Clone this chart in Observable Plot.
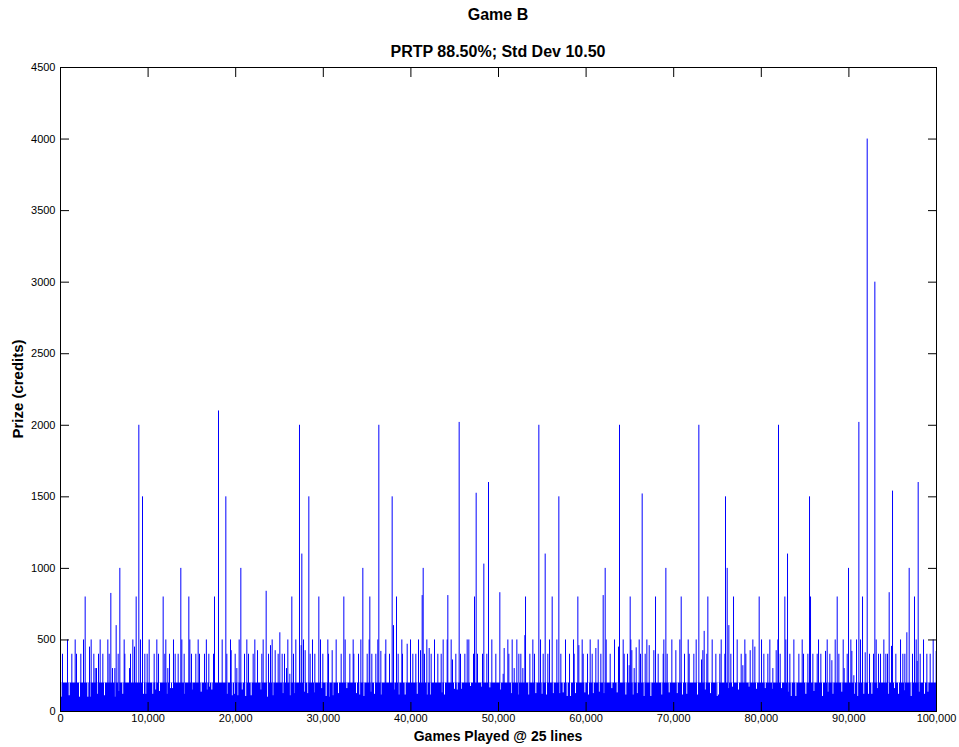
<!DOCTYPE html>
<html>
<head>
<meta charset="utf-8">
<script src="https://cdn.jsdelivr.net/npm/d3@7"></script>
<script src="https://cdn.jsdelivr.net/npm/@observablehq/plot@0.6"></script>
<style>
  body { margin: 0; background: #fff; }
  #chart { position: relative; width: 959px; height: 747px; font-family: "Liberation Sans", Arial, sans-serif; color: #000; }
  #chart svg { position: absolute; left: 0; top: 0; }
  .txt { position: absolute; white-space: nowrap; font-weight: bold; line-height: 1; }
  .center { left: 60px; width: 876px; text-align: center; }
</style>
</head>
<body>
<div id="chart"></div>
<script>
// Prize won on each of 100,000 simulated games (25 lines).
const chartTitle = "Game B";
const chartSubtitle = "PRTP 88.50%; Std Dev 10.50";
const xLabel = "Games Played @ 25 lines";
const yLabel = "Prize (credits)";

const totalGames = 100000;
const prizeMax = 4500;
const xTicks = [0, 10000, 20000, 30000, 40000, 50000, 60000, 70000, 80000, 90000, 100000];
const yTicks = [0, 500, 1000, 1500, 2000, 2500, 3000, 3500, 4000, 4500];

// Level reached by the dense mass of small wins in almost every stretch of games.
const bandTop = 200;

// Individual wins standing above the dense band: game number and prize.
const spikeGames = [
  229, 799, 1294, 1675, 1827, 2321, 2626, 2816, 3311, 3501, 3805, 3958, 4110, 4338, 4528, 4833,
  5403, 5556, 5746, 5936, 6203, 6355, 6583, 6773, 7268, 7344, 7877, 7991, 8257, 8447, 8638, 8942,
  9132, 9361, 9627, 9893, 10122, 10692, 10997, 11187, 11720, 11910, 12024, 12252, 12443, 12899,
  13090, 13432, 13736, 13851, 14117, 14650, 14764, 14954, 15449, 15715, 15867, 16438, 16650,
  16934, 17466, 17581, 18037, 18456, 18874, 18988, 19407, 19483, 19940, 20130, 20396, 20586,
  21005, 21271, 21462, 21994, 22185, 22489, 22984, 23136, 23478, 23745, 23973, 24163, 24506,
  24848, 25038, 25305, 25571, 25799, 25952, 26180, 26408, 26599, 26865, 27283, 27474, 27550,
  27740, 27930, 28349, 28501, 28767, 29034, 29490, 29681, 29947, 30518, 30594, 31013, 31469,
  32040, 32344, 32496, 33029, 33409,
  33487, 34019, 34286, 34514, 35009, 35237, 35313, 35541, 35998, 36226, 36340, 36569, 37063,
  37139, 37558, 37862, 38014, 38357, 38547, 38966, 39042, 39575, 39955, 40221, 40564, 40868,
  41097, 41287, 41401, 41553, 41819, 42086, 42314, 42695, 43075, 43456, 43684, 44141, 44217,
  44597, 44749, 45130, 45510, 45663, 46158, 46424, 46614, 47147, 47261, 47451, 47603, 48174,
  48326, 48668, 48859, 49239, 49696, 50152,
  50535, 50649, 51068, 51182, 51562, 51791, 52095, 52323, 52552, 52780, 53008, 53084, 53579,
  53921, 54112, 54606, 54797, 55101, 55329, 55634, 55824, 56128, 56661, 56889, 57118, 57650,
  58107, 58564, 58640, 59058, 59172, 59553, 59667, 60162, 60466, 60694, 61113, 61379, 61684,
  61950, 62178, 62292, 62749, 63244, 63700, 63814, 64233, 64347, 64727, 64918, 65032, 65108,
  65222, 65489, 65717, 66060, 66212, 66402, 66745,
  66936, 67202, 67735, 67925, 68229, 68800, 68876, 69105, 69257, 69789, 70246, 70703, 70855,
  71235, 71654, 71768, 72301, 72567, 72871, 73176, 73328, 73480, 73785, 73899, 74393, 74812,
  75269, 75421, 75839, 75915, 76106, 76296, 76524, 76829, 77247, 77704, 77894, 78122, 78237,
  78731, 79036, 79264, 79758, 80025, 80291, 80748, 80976, 81319, 81699, 81889, 81965, 82156,
  82689, 82803, 82993, 83259,
  83717, 84288, 84668, 84820, 85315, 85505, 85581, 85619, 85886, 86380, 86533, 86799, 87332,
  87522, 87826, 88055, 88435, 88663, 88854, 89348, 89462, 89805, 89957, 90223, 90338, 90566,
  90870, 91137, 91327, 91555, 91860, 92088, 92354, 92811, 92963, 93115, 93382, 93610, 93990,
  94219, 94409, 94599, 94865, 94979, 95360, 95893, 96159, 96387, 96616, 96882, 97262, 97490,
  97681, 97795, 97909, 98137, 98518, 98898, 99279, 99621, 99964
];
const spikePrizes = [
  400, 500, 400, 500, 400, 400, 500, 800, 450, 500, 400, 300, 300, 400, 500, 400,
  500, 400, 825, 300, 300, 600, 400, 1000, 500, 400, 300, 400, 500, 450, 800, 2000,
  500, 1500, 400, 400, 500, 400, 500, 400, 800, 400, 500, 300, 400, 500,
  400, 400, 1000, 500, 400, 800, 500, 400, 400, 500, 400, 400, 500,
  400, 400, 800, 2100, 500, 1500, 400, 500, 425, 400, 300, 500, 1000,
  400, 500, 400, 400, 500, 425, 400, 500, 840, 400, 460, 500, 425,
  400, 550, 400, 400, 300, 500, 260, 800, 400, 500, 2000, 460, 1100,
  500, 425, 1500, 400, 500, 400, 800, 500, 400, 500, 400, 425, 500,
  400, 800, 500, 400, 500,
  400, 400, 500, 1000, 400, 500, 800, 400, 400, 500, 2000, 420, 400,
  500, 400, 1500, 600, 800, 400, 500, 400, 470, 500, 400, 400, 500,
  425, 810, 1000, 400, 500, 440, 400, 500, 400, 400, 500, 500, 810,
  500, 360, 400, 2020, 400, 400, 500, 500, 400, 800, 1525, 400, 400,
  1030, 400, 1600, 500, 400, 830,
  260, 440, 500, 400, 500, 300, 500, 400, 400, 300, 530, 800, 400,
  500, 400, 2000, 500, 400, 1100, 400, 500, 800, 500, 1500, 400, 500,
  400, 500, 400, 800, 460, 500, 400, 400, 500, 400, 440, 500, 400,
  810, 1000, 500, 400, 500, 450, 2000, 500, 400, 400, 320, 800, 500,
  425, 300, 445, 500, 400, 1520, 400,
  500, 460, 425, 800, 400, 400, 500, 1000, 400, 500, 425, 500, 800,
  400, 500, 400, 400, 500, 2000, 360, 425, 560, 400, 800, 500, 400,
  400, 500, 400, 1500, 1000, 600, 400, 800, 500, 400, 320, 500, 400,
  425, 500, 450, 800, 500, 400, 400, 500, 300, 425, 500, 2000, 400,
  800, 500, 1100, 400,
  500, 400, 500, 400, 400, 1500, 650, 800, 400, 400, 500, 400, 420,
  500, 400, 355, 500, 800, 400, 500, 300, 400, 1000, 500, 420, 250,
  500, 2020, 500, 800, 410, 4000, 400, 400, 3000, 500, 400, 400, 500,
  400, 400, 830, 455, 1540, 400, 500, 400, 400, 550, 1000, 400, 800,
  500, 350, 1600, 400, 500, 400, 400, 500, 420
];

// Stretches of games where no win passed a lower level: game number and highest prize.
const dipGames = [
  76, 990, 2170, 3120, 3387, 4262, 5023, 6240, 6659, 7116, 9475, 9741, 10540, 10883, 11300, 12200,
  12557, 12785, 14155, 14992, 16058, 16705, 17010, 17276, 19026, 19597, 19864, 20244, 20739, 21081,
  21195, 21766, 22908, 23650, 24239, 25381, 26218, 26637, 27854, 28235, 28996, 29833, 30327, 30632,
  31088, 31735, 32686, 33791, 34171, 34628, 35465, 35846, 36607, 38053, 38623, 39346, 40716, 41858,
  42238, 43540, 43836, 44978, 45282, 45739, 46804, 48098, 49011, 50231, 51486, 52285, 53465, 54264,
  54987, 55482, 56243, 57004, 57384, 57841, 58221, 58792, 59857, 60276, 60809, 61494, 62026, 62940,
  63548, 64537, 65374, 65831, 66631, 67392, 68648, 69485, 70398, 71007, 71502, 72720, 73594, 74203,
  74964, 75116, 76258, 76715, 77400, 78617, 79454, 80444, 81280, 82308, 83031, 83412, 83945, 85087,
  86000, 86989, 87598, 88169, 89196, 90642, 91022, 91707, 92240, 92621, 93305, 94523, 95208, 95665,
  96349, 97110, 98024, 98632, 99013
];
const dipPrizes = [
  100, 110, 100, 100, 100, 120, 110, 100, 140, 120, 120, 120, 120, 150, 140, 120,
  160, 160, 120, 150, 135, 150, 170, 150, 120, 110, 120, 110, 150, 105,
  105, 110, 150, 100, 110, 125, 110, 125, 135, 125, 130, 160, 105, 100,
  110, 125, 160, 125, 115, 105, 135, 120, 115, 150, 115, 115, 120, 115,
  115, 130, 115, 155, 150, 155, 175, 170, 165, 150, 125, 115, 115, 125,
  120, 115, 125, 125, 130, 105, 105, 125, 130, 115, 125, 135, 125, 160,
  130, 115, 115, 125, 105, 105, 115, 130, 125, 115, 120, 115, 150, 125,
  105, 115, 160, 170, 150, 170, 155, 160, 155, 160, 135, 105, 105, 120,
  140, 105, 135, 120, 135, 120, 105, 120, 120, 120, 160, 120, 160, 120,
  145, 105, 135, 120, 135
];

const spikes = spikeGames.map((game, i) => ({game, prize: spikePrizes[i]}));
const dips = dipGames.map((game, i) => ({game, prize: dipPrizes[i]}));
const band = [{game: 0, prize: bandTop}, {game: totalGames, prize: bandTop}];

const blue = "#0000ff";

const chart = Plot.plot({
  width: 959,
  height: 747,
  marginLeft: 60,
  marginRight: 23,
  marginTop: 67,
  marginBottom: 36,
  style: {fontFamily: "'Liberation Sans', Arial, sans-serif", fontSize: "11px", color: "#000", background: "#fff", overflow: "visible"},
  x: {domain: [0, totalGames]},
  y: {domain: [0, prizeMax]},
  marks: [
    Plot.areaY(band, {x: "game", y: "prize", fill: blue}),
    Plot.ruleX(dips, {x: "game", y1: "prize", y2: bandTop, stroke: "#fff", strokeWidth: 1}),
    Plot.ruleX(spikes, {x: "game", y1: 0, y2: "prize", stroke: blue, strokeWidth: 1}),
    Plot.frame({stroke: "#000"}),
    Plot.axisX(xTicks, {anchor: "bottom", tickSize: -9, tickPadding: 12, tickFormat: d3.format(","), label: null}),
    Plot.axisX(xTicks, {anchor: "top", tickSize: -9, fill: "none", label: null}),
    Plot.axisY(yTicks, {anchor: "left", tickSize: -9, tickPadding: 14, tickFormat: d => String(d), label: null}),
    Plot.axisY(yTicks, {anchor: "right", tickSize: -9, fill: "none", label: null})
  ]
});

const root = document.getElementById("chart");
root.appendChild(chart);

function addText(text, cls, css) {
  const el = document.createElement("div");
  el.className = "txt " + cls;
  el.textContent = text;
  Object.assign(el.style, css);
  root.appendChild(el);
  return el;
}
addText(chartTitle, "center", {top: "7px", fontSize: "16px"});
addText(chartSubtitle, "center", {top: "44px", fontSize: "16px"});
addText(xLabel, "center", {top: "729px", fontSize: "14px"});
addText(yLabel, "", {fontSize: "15px", left: "17px", top: "389px", transform: "translate(-50%, -50%) rotate(-90deg)"});
</script>
</body>
</html>
